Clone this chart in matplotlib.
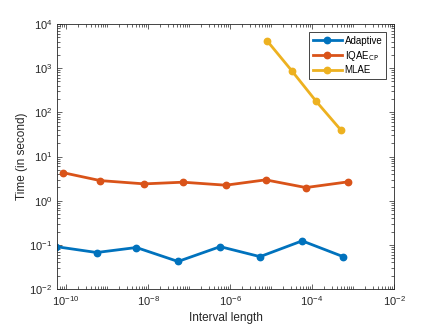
import numpy as np
import matplotlib
matplotlib.use("Agg")
import matplotlib.pyplot as plt
from matplotlib.ticker import FixedLocator, NullFormatter, LogFormatterSciNotation

plt.rcParams['font.family'] = ['Liberation Sans', 'DejaVu Sans']

# Data
adaptive_x = [5.75e-11, 5.6e-10, 5.2e-9, 5.4e-8, 5.75e-7, 5.4e-6, 5.75e-5, 5.75e-4]
adaptive_y = [0.091, 0.067, 0.087, 0.042, 0.091, 0.054, 0.123, 0.054]
iqae_x = [8.3e-11, 6.8e-10, 8.1e-9, 7.1e-8, 7.9e-7, 7.4e-6, 7.1e-5, 7.4e-4]
iqae_y = [4.32, 2.85, 2.40, 2.62, 2.24, 2.96, 1.98, 2.66]
mlae_x = [8.1e-6, 3.2e-5, 1.26e-4, 5.1e-4]
mlae_y = [4120, 877, 178, 39.4]
labels = ['Adaptive', 'IQAE$_{\\mathrm{CP}}$', 'MLAE']
colors = ['#0072BD', '#D95319', '#EDB120']
xticks = [1e-10, 1e-8, 1e-6, 1e-4, 1e-2]
yticks = [1e-2, 1e-1, 1e0, 1e1, 1e2, 1e3, 1e4]

fig = plt.figure(figsize=(4.36, 3.27), dpi=100)
ax = fig.add_axes([57/436, 1-289/327, (394-57)/436, (289-24)/327])

for xs, ys, lab, c in zip([adaptive_x, iqae_x, mlae_x], [adaptive_y, iqae_y, mlae_y], labels, colors):
    ax.plot(xs, ys, '-o', color=c, lw=2.0, ms=4.6, label=lab)

ax.set_xscale('log')
ax.set_yscale('log')
xlo, xhi = 10**-10.22, 1e-2
ax.set_xlim(xlo, xhi)
ax.set_ylim(yticks[0], yticks[-1])

ax.xaxis.set_major_locator(FixedLocator(xticks))
ax.xaxis.set_major_formatter(LogFormatterSciNotation())
xminor = [m * 10.0**k for k in range(-11, -1) for m in range(1, 10)
          if not (m == 1 and k % 2 == 0)]
xminor = [v for v in xminor if xlo <= v <= xhi]
ax.xaxis.set_minor_locator(FixedLocator(xminor))
ax.xaxis.set_minor_formatter(NullFormatter())
ax.yaxis.set_major_locator(FixedLocator(yticks))
ax.yaxis.set_major_formatter(LogFormatterSciNotation())
yminor = [m * 10.0**k for k in range(-2, 4) for m in range(2, 10)]
ax.yaxis.set_minor_locator(FixedLocator(yminor))
ax.yaxis.set_minor_formatter(NullFormatter())

edge = '#262626'
for s in ax.spines.values():
    s.set_color(edge)
    s.set_linewidth(0.6)
ax.tick_params(which='both', direction='in', top=True, right=True, colors=edge,
               labelsize=8, width=0.5)
ax.tick_params(which='major', length=3.5)
ax.tick_params(which='minor', length=2)
for t in ax.get_xticklabels() + ax.get_yticklabels():
    t.set_color(edge)

ax.set_xlabel('Interval length', fontsize=8.5, color=edge, labelpad=3)
ax.set_ylabel('Time (in second)', fontsize=8.5, color=edge, labelpad=1)

leg = ax.legend(loc='upper right', fontsize=7, fancybox=False, framealpha=1,
                edgecolor=edge, borderpad=0.4, handlelength=3.0, labelspacing=0.3,
                handletextpad=0.3, borderaxespad=0.8)
leg.get_frame().set_linewidth(0.6)

fig.savefig('out.png', dpi=100)
